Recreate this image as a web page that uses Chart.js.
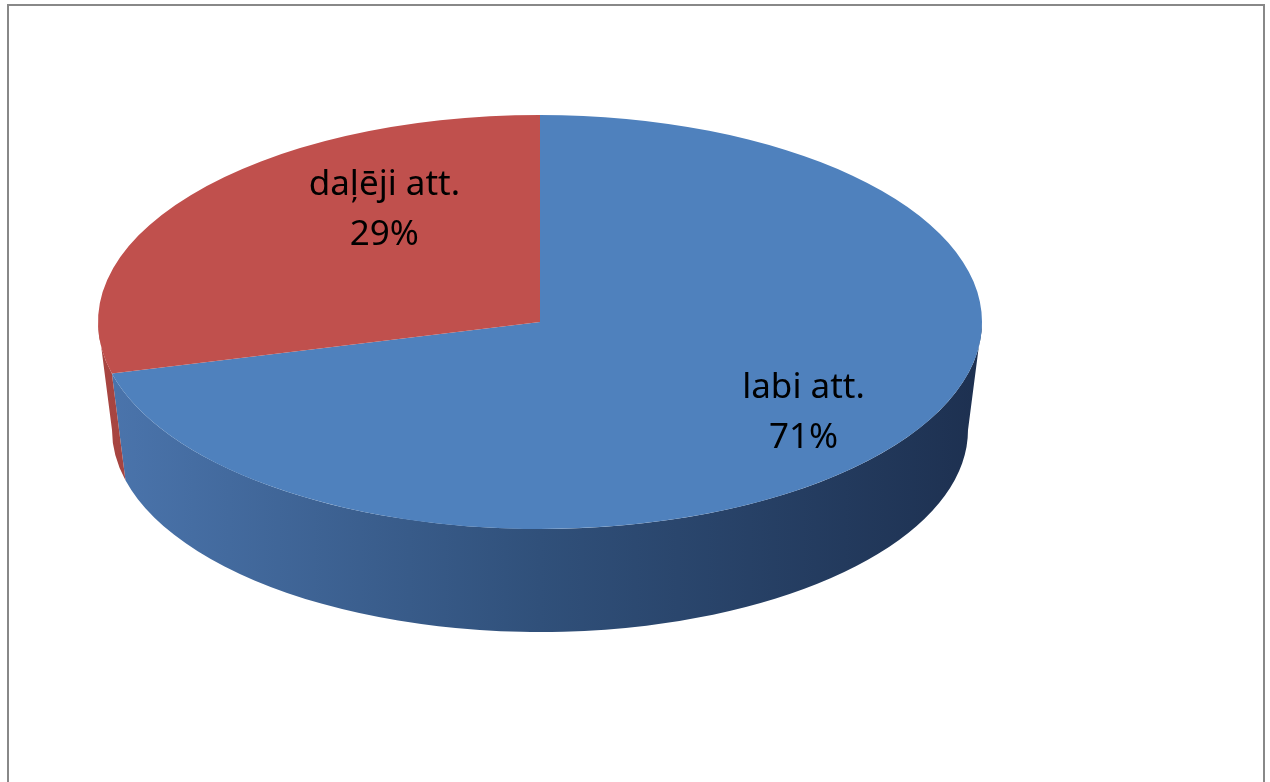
<!DOCTYPE html>
<html>
<head>
<meta charset="utf-8">
<script src="https://cdn.jsdelivr.net/npm/chart.js@4"></script>
<style>
  html, body { margin: 0; padding: 0; background: #fff; }
  #frame {
    position: absolute; left: 7px; top: 4px; width: 1258px; height: 800px;
    border: 2px solid #888; border-bottom: none; box-sizing: border-box;
  }
  canvas { position: absolute; left: 0; top: 0; }
</style>
</head>
<body>
<div id="frame"></div>
<canvas id="pie" width="1270" height="782"></canvas>
<script>
const categories = ["labi att.", "daļēji att."];
const values = [71, 29];
const colors = ["#4f81bd", "#c0504d"];

// where the flattened pie sits on the page
const CX = 540, CY = 322, RX = 442, RY = 207;
// bottom rim of the side wall (a bit smaller, for the perspective)
const BCX = 540, BCY = 430, BRX = 428, BRY = 202;

function sideGradient(ctx, i) {
    const g = ctx.createLinearGradient(BCX - RX, 0, BCX + RX, 0);
    if (i === 0) {
        g.addColorStop(0, "#4b75ad");
        g.addColorStop(0.5, "#30507a");
        g.addColorStop(1, "#1d3050");
    } else {
        g.addColorStop(0, "#a84541");
        g.addColorStop(1, "#5a2220");
    }
    return g;
}

const tiltPlugin = {
    id: "tilt",
    beforeDatasetsDraw(chart) {
        const ctx = chart.ctx;
        const meta = chart.getDatasetMeta(0);
        const first = meta.data[0];
        // side wall: only the front half (0..PI) is visible
        meta.data.forEach((arc, i) => {
            let s = arc.startAngle, e = arc.endAngle;
            for (let off = -2 * Math.PI; off <= 2 * Math.PI; off += 2 * Math.PI) {
                const a1 = Math.max(s + off, 0), a2 = Math.min(e + off, Math.PI);
                if (a2 <= a1) continue;
                ctx.beginPath();
                ctx.ellipse(CX, CY, RX, RY, 0, a1, a2);
                ctx.lineTo(BCX + BRX * Math.cos(a2), BCY + BRY * Math.sin(a2));
                ctx.ellipse(BCX, BCY, BRX, BRY, 0, a2, a1, true);
                ctx.closePath();
                ctx.fillStyle = sideGradient(ctx, i);
                ctx.fill();
            }
        });
        const k = RX / first.outerRadius;
        ctx.save();
        ctx.translate(CX, CY);
        ctx.scale(k, k * RY / RX);
        ctx.translate(-first.x, -first.y);
    },
    afterDatasetsDraw(chart) {
        const ctx = chart.ctx;
        ctx.restore();
        const meta = chart.getDatasetMeta(0);
        const total = values.reduce((a, b) => a + b, 0);
        ctx.save();
        ctx.fillStyle = "#000";
        ctx.font = "35px 'Noto Sans'";
        ctx.textAlign = "center";
        ctx.textBaseline = "middle";
        meta.data.forEach((arc, i) => {
            const mid = (arc.startAngle + arc.endAngle) / 2;
            const sin = Math.sin(mid);
            // back of the pie looks narrower than the front
            const x = CX + 0.6 * (1 + 0.42 * sin) * RX * Math.cos(mid);
            const y = CY - 10 + 0.8 * RY * sin;
            ctx.fillText(categories[i], x, y - 25);
            ctx.fillText(Math.round(values[i] / total * 100) + "%", x, y + 25);
        });
        ctx.restore();
    }
};

new Chart(document.getElementById("pie"), {
    type: "pie",
    data: {
        labels: categories,
        datasets: [{
            data: values,
            backgroundColor: colors,
            borderWidth: 0,
            clip: false
        }]
    },
    options: {
        responsive: false,
        animation: false,
        plugins: {
            legend: { display: false },
            tooltip: { enabled: false }
        }
    },
    plugins: [tiltPlugin]
});
</script>
</body>
</html>
